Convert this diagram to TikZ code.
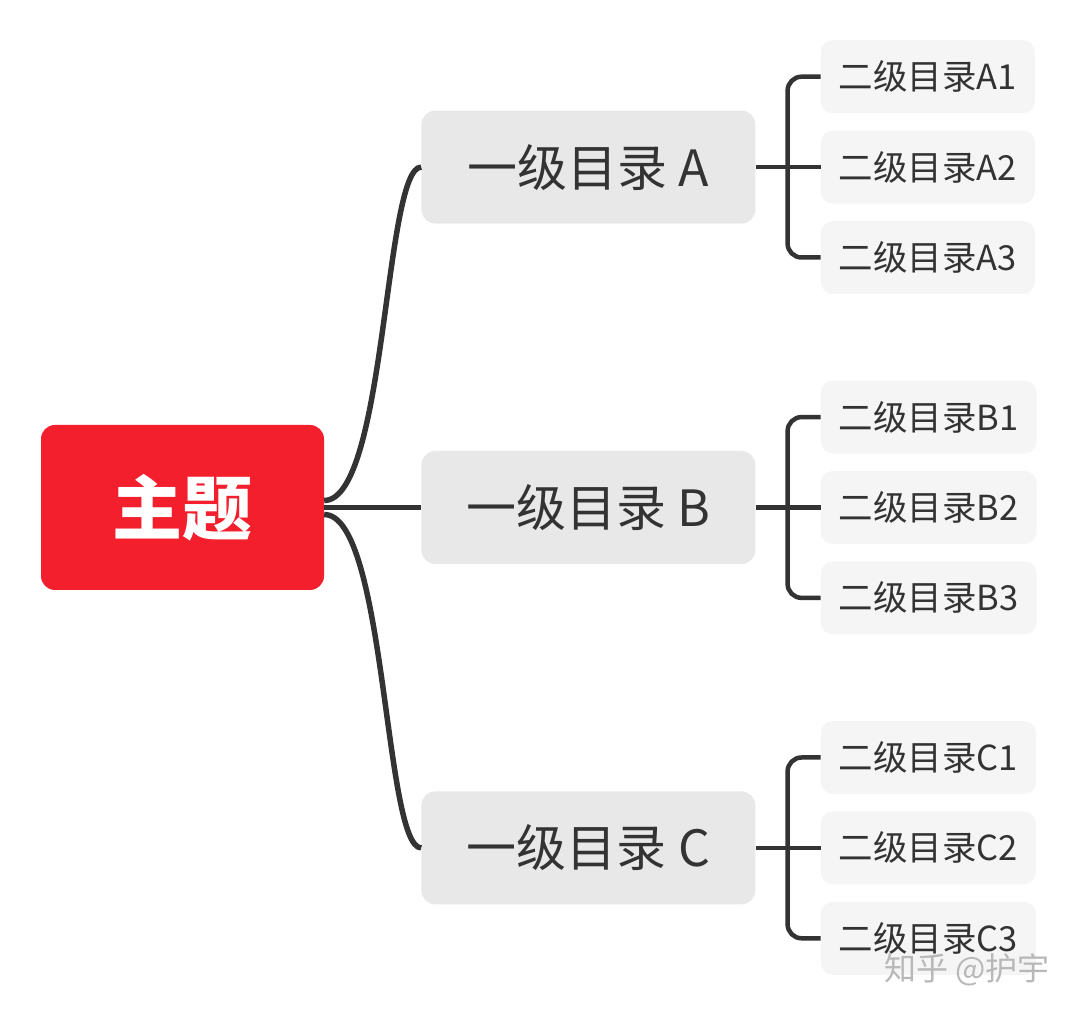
\documentclass[tikz,border=0pt]{standalone}
\usepackage{fontspec}
\setmainfont{Noto Sans CJK SC}
\usetikzlibrary{positioning}
\definecolor{topicred}{HTML}{F31F2D}
\definecolor{branchgray}{HTML}{E8E8E8}
\definecolor{leafgray}{HTML}{F5F5F5}
\definecolor{inkgray}{HTML}{333333}
\tikzstyle{topic} = [rectangle, rounded corners=14pt, fill=topicred, text=white, minimum width=283pt,
minimum height=165pt, font=\fontsize{70}{80}\selectfont\bfseries]
\tikzstyle{branch} = [rectangle, rounded corners=14pt, fill=branchgray, text=inkgray, minimum width=334pt,
minimum height=113pt, font=\fontsize{50}{58}\selectfont]
\tikzstyle{leaf} = [rectangle, rounded corners=12pt, fill=leafgray, text=inkgray, inner xsep=18pt,
minimum height=73pt, font=\fontsize{34.5}{40}\selectfont]
\tikzstyle{curve} = [line width=5.5pt, draw=inkgray]
\tikzstyle{bracket} = [line width=4.5pt, draw=inkgray, rounded corners=14pt]
\tikzstyle{watermark} = [text=black!28, font=\fontsize{32}{36}\selectfont]

\begin{document}
\begin{tikzpicture}[x=1pt, y=1pt]
    \useasboundingbox (0,0) rectangle (1080,1015);

    \node (root) at (182.5,507.5) [topic] {主题};
    \node (lvB) [branch, right=97pt of root] {一级目录 B};
    \node (lvA) [branch, above=227pt of lvB] {一级目录 A};
    \node (lvC) [branch, below=227pt of lvB] {一级目录 C};

    \node (a2) [leaf, right=65pt of lvA] {二级目录A2};
    \node (a1) [leaf, above=17pt of a2.north west, anchor=south west] {二级目录A1};
    \node (a3) [leaf, below=17pt of a2.south west, anchor=north west] {二级目录A3};
    \node (b2) [leaf, right=65pt of lvB] {二级目录B2};
    \node (b1) [leaf, above=17pt of b2.north west, anchor=south west] {二级目录B1};
    \node (b3) [leaf, below=17pt of b2.south west, anchor=north west] {二级目录B3};
    \node (c2) [leaf, right=65pt of lvC] {二级目录C2};
    \node (c1) [leaf, above=17pt of c2.north west, anchor=south west] {二级目录C1};
    \node (c3) [leaf, below=17pt of c2.south west, anchor=north west] {二级目录C3};

    \node (zhihu) at (967,45) [watermark] {知乎 @护宇};

    % main branches
    \draw[curve] ([yshift=7pt]root.east) .. controls +(62,0) and +(-37,0) .. (lvA.west);
    \draw[curve] (root.east) -- (lvB.west);
    \draw[curve] ([yshift=-7pt]root.east) .. controls +(62,0) and +(-37,0) .. (lvC.west);

    % sub branches
    \draw[bracket] (a1.west) -| ([xshift=-33pt]a2.west) |- (a3.west);
    \draw[bracket] (lvA.east) -- (a2.west);
    \draw[bracket] (b1.west) -| ([xshift=-33pt]b2.west) |- (b3.west);
    \draw[bracket] (lvB.east) -- (b2.west);
    \draw[bracket] (c1.west) -| ([xshift=-33pt]c2.west) |- (c3.west);
    \draw[bracket] (lvC.east) -- (c2.west);

    \end{tikzpicture}
\end{document}
